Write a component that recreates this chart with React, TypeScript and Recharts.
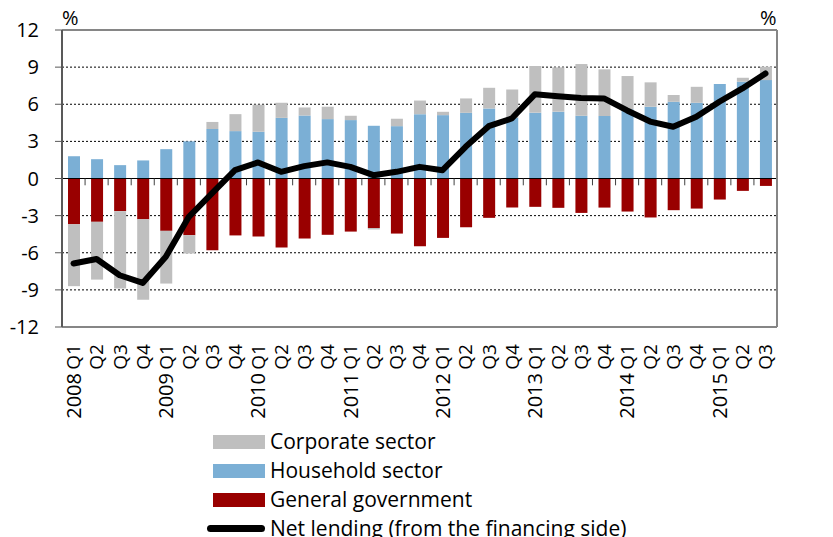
import React from "react";
import {
  ComposedChart,
  Bar,
  Line,
  XAxis,
  YAxis,
  CartesianGrid,
  ReferenceLine,
} from "recharts";

const categories = [
  "2008 Q1", "Q2", "Q3", "Q4",
  "2009 Q1", "Q2", "Q3", "Q4",
  "2010 Q1", "Q2", "Q3", "Q4",
  "2011 Q1", "Q2", "Q3", "Q4",
  "2012 Q1", "Q2", "Q3", "Q4",
  "2013 Q1", "Q2", "Q3", "Q4",
  "2014 Q1", "Q2", "Q3", "Q4",
  "2015 Q1", "Q2", "Q3",
];

const household = [
  1.8, 1.56, 1.08, 1.46, 2.37, 3.0, 4.0, 3.83, 3.77, 4.9, 5.09, 4.8, 4.72, 4.26,
  4.23, 5.2, 5.12, 5.31, 5.66, 4.9, 5.32, 5.4, 5.07, 5.05, 5.6, 5.8, 6.2, 6.12,
  7.63, 7.82, 7.95,
];

const government = [
  -3.7, -3.5, -2.64, -3.3, -4.23, -4.58, -5.8, -4.6, -4.69, -5.58, -4.85, -4.55,
  -4.29, -4.0, -4.45, -5.47, -4.8, -3.94, -3.18, -2.35, -2.29, -2.37, -2.78,
  -2.35, -2.67, -3.15, -2.56, -2.43, -1.7, -1.0, -0.6,
];

const corporate = [
  -5.0, -4.67, -6.25, -6.5, -4.26, -1.48, 0.57, 1.37, 2.19, 1.22, 0.65, 1.0,
  0.35, -0.12, 0.6, 1.1, 0.27, 1.16, 1.67, 2.3, 3.77, 3.58, 4.18, 3.77, 2.68,
  1.97, 0.55, 1.29, 0, 0.32, 1.08,
];

const netLending = [
  -6.87, -6.5, -7.82, -8.44, -6.33, -3.1, -1.21, 0.67, 1.3, 0.54, 1.0, 1.3,
  0.94, 0.27, 0.54, 0.94, 0.67, 2.56, 4.23, 4.85, 6.8, 6.65, 6.5, 6.47, 5.5,
  4.6, 4.18, 4.99, 6.2, 7.28, 8.49,
];

const yTicks = [-12, -9, -6, -3, 0, 3, 6, 9, 12];
const gridValues = [-9, -6, -3, 3, 6, 9];

const legendItems = [
  { name: "Corporate sector", color: "#BFBFBF", type: "bar" },
  { name: "Household sector", color: "#7BAFD5", type: "bar" },
  { name: "General government", color: "#990000", type: "bar" },
  { name: "Net lending (from the financing side)", color: "#000000", type: "line" },
];

const data = categories.map((label, i) => ({
  idx: i,
  label,
  household: household[i],
  government: government[i],
  corporate: corporate[i],
  net: netLending[i],
}));

const FONT = "'Open Sans', Carlito, Calibri, sans-serif";

const XTick = (props: any) => {
  const { x, y, payload } = props;
  const parts = String(payload.value).split(" ");
  const q = parts[parts.length - 1];
  const year = parts.length > 1 ? parts[0] : null;
  return (
    <g transform={`translate(${x},${y})`}>
      <text
        transform="rotate(-90)"
        x={0}
        y={0}
        dy="0.36em"
        textAnchor="end"
        fontSize={19}
        fontFamily={FONT}
        fill="#000"
      >
        {q}
      </text>
      {year && (
        <text
          transform="rotate(-90)"
          x={-29}
          y={0}
          dy="0.36em"
          textAnchor="end"
          fontSize={20}
          fontFamily={FONT}
          fill="#000"
        >
          {year}
        </text>
      )}
    </g>
  );
};

const boundaries = categories.slice(1).map((_, i) => i + 0.5);

export default function App() {
  return (
    <div
      style={{
        position: "absolute",
        left: 0,
        top: 0,
        width: 833,
        height: 537,
        background: "#fff",
        overflow: "hidden",
        fontFamily: FONT,
      }}
    >
      <ComposedChart
        width={833}
        height={537}
        data={data}
        stackOffset="sign"
        barSize={12}
        margin={{ top: 30, right: 0, bottom: 0, left: 0 }}
      >
        <CartesianGrid
          xAxisId="cat"
          yAxisId="left"
          vertical={false}
          horizontalValues={gridValues}
          stroke="#000"
          strokeDasharray="2 2"
        />
        <XAxis
          xAxisId="cat"
          dataKey="label"
          type="category"
          interval={0}
          height={210}
          tickSize={0}
          tickMargin={17}
          tick={<XTick />}
          axisLine={{ stroke: "#868686", strokeWidth: 2 }}
          tickLine={false}
        />
        <XAxis
          xAxisId="grid"
          dataKey="idx"
          type="number"
          domain={[-0.5, categories.length - 0.5]}
          allowDataOverflow
          hide
        />
        <YAxis
          yAxisId="left"
          width={62}
          domain={[-12, 12]}
          ticks={yTicks}
          interval={0}
          tickSize={7}
          tickMargin={16}
          axisLine={{ stroke: "#595959", strokeWidth: 2 }}
          tickLine={{ stroke: "#595959" }}
          tick={{ fontSize: 20, fontFamily: FONT, fill: "#000" }}
        />
        <YAxis
          yAxisId="right"
          orientation="right"
          width={56}
          domain={[-12, 12]}
          ticks={yTicks}
          interval={0}
          tickSize={6}
          tickMargin={17}
          axisLine={{ stroke: "#868686", strokeWidth: 2 }}
          tickLine={{ stroke: "#868686" }}
          tick={{ fontSize: 20, fontFamily: FONT, fill: "#000", textAnchor: "start" }}
        />
        <ReferenceLine xAxisId="cat" yAxisId="left" y={12} stroke="#868686" strokeWidth={2} />
        <Bar
          xAxisId="cat"
          yAxisId="left"
          dataKey="household"
          stackId="s"
          fill="#7BAFD5"
          isAnimationActive={false}
        />
        <Bar
          xAxisId="cat"
          yAxisId="left"
          dataKey="government"
          stackId="s"
          fill="#990000"
          isAnimationActive={false}
        />
        <Bar
          xAxisId="cat"
          yAxisId="left"
          dataKey="corporate"
          stackId="s"
          fill="#BFBFBF"
          isAnimationActive={false}
        />
        <ReferenceLine xAxisId="cat" yAxisId="left" y={0} stroke="#000" strokeWidth={1} />
        {boundaries.map((b) => (
          <ReferenceLine
            key={b}
            xAxisId="grid"
            yAxisId="left"
            segment={[
              { x: b, y: 0 },
              { x: b, y: -0.55 },
            ]}
            stroke="#404040"
            strokeWidth={1}
          />
        ))}
        <Line
          xAxisId="cat"
          yAxisId="left"
          dataKey="net"
          type="linear"
          stroke="#000"
          strokeWidth={6}
          strokeLinejoin="round"
          strokeLinecap="round"
          dot={false}
          activeDot={false}
          isAnimationActive={false}
        />
      </ComposedChart>

      <div style={{ position: "absolute", left: 62, top: 4, fontSize: 20, color: "#000" }}>%</div>
      <div style={{ position: "absolute", left: 760, top: 4, fontSize: 20, color: "#000" }}>%</div>

      <div style={{ position: "absolute", left: 203, top: 427 }}>
        {legendItems.map((it) => (
          <div
            key={it.name}
            style={{ display: "flex", alignItems: "center", height: 29 }}
          >
            <div style={{ width: 62, display: "flex", justifyContent: "flex-end", marginRight: 5 }}>
              {it.type === "bar" ? (
                <div style={{ width: 52, height: 14, background: it.color }} />
              ) : (
                <div style={{ width: 58, height: 7, borderRadius: 4, background: it.color }} />
              )}
            </div>
            <span style={{ fontSize: 21, lineHeight: "29px", color: "#000", whiteSpace: "nowrap" }}>
              {it.name}
            </span>
          </div>
        ))}
      </div>
    </div>
  );
}
